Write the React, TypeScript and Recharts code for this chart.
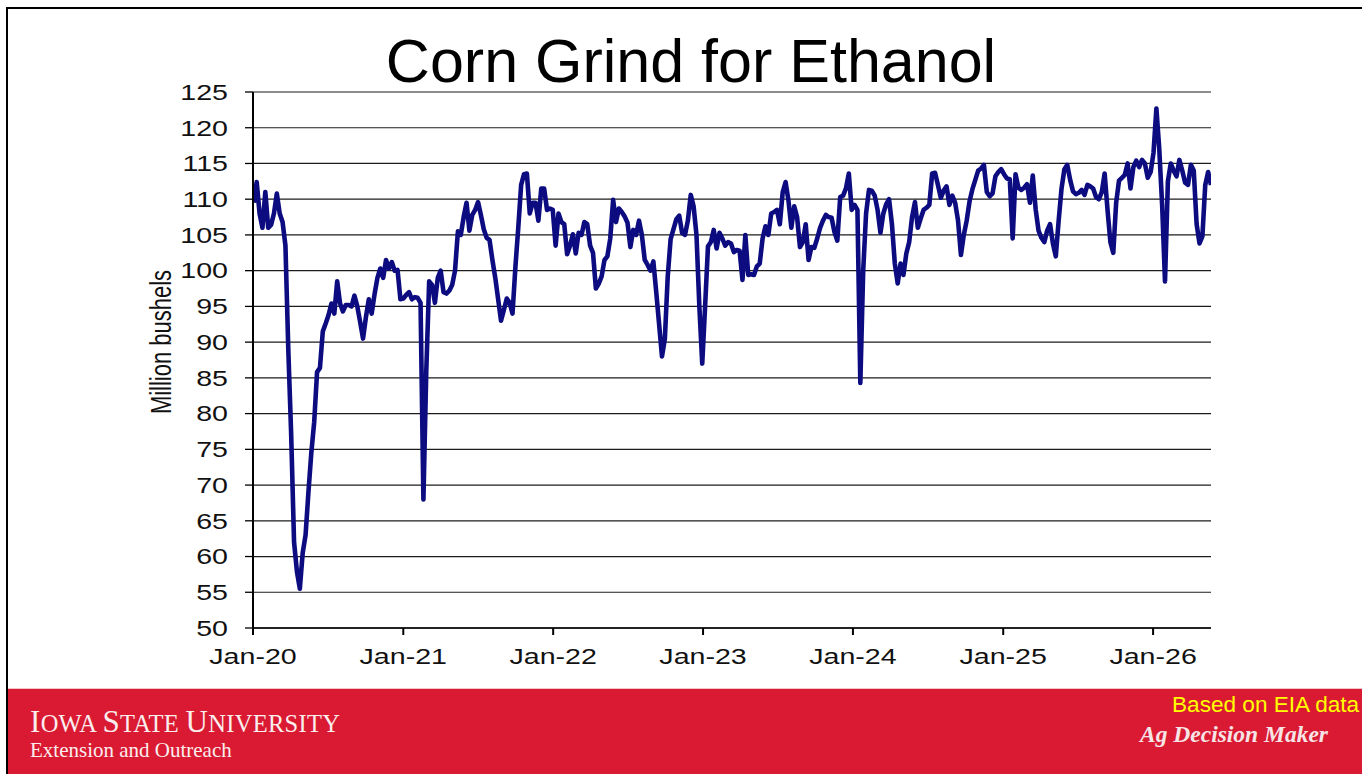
import { LineChart, Line, XAxis, YAxis, CartesianGrid } from "recharts";

// weekly corn grind for ethanol, million bushels
const grind2020 = [
  109.5, 112.4, 108, 106, 111, 106, 106.4, 108, 110.8, 108,
  106.8, 103.5, 88.9, 77, 62, 57.9, 55.5, 60.5, 63, 69,
  74.5, 78.8, 85.8, 86.4, 91.5, 92.6, 93.8, 95.4, 94, 98.5,
  95.4, 94.3, 95.2, 95.2, 95, 96.5, 95, 92.8, 90.5, 93.5,
  96, 94, 96.7, 99, 100.3, 99, 101.5, 100.3, 101.2, 100,
  100.1, 96,
];
const grind2021 = [
  96.1, 96.6, 97, 96, 96.3, 96.2, 95.5, 68, 86, 98.5,
  98, 95.5, 99, 100, 97, 96.8, 97.2, 98, 100, 105.5,
  105, 107.5, 109.5, 105.6, 107.8, 108.5, 109.6, 107.8, 105.8, 104.6,
  104.3, 101.5, 99, 96, 93, 94.5, 96.1, 95.5, 94, 100.5,
  106, 112, 113.5, 113.6, 108, 109.5, 109.5, 107, 111.5, 111.5,
  108.5, 108.7,
];
const grind2022 = [
  108.5, 103.5, 108, 106.8, 106.5, 102.3, 103.5, 105.1, 102.4, 105.3,
  105, 106.8, 106.5, 103.5, 102.5, 97.5, 98.2, 99.2, 101.5, 102,
  104.5, 109.9, 106.8, 108.7, 108.2, 107.6, 106.7, 103.3, 105.7, 105,
  107, 105, 101.5, 100.8, 100, 101.3, 97, 92.5, 88, 90.5,
  99.2, 104.4, 105.8, 107.2, 107.7, 105.3, 105, 107, 110.6, 109,
  105, 95,
];
const grind2023 = [
  87, 95, 103.4, 104, 105.7, 103.1, 105.3, 104.5, 103.5, 104,
  103.8, 102.6, 102.9, 102.8, 98.7, 105, 99.4, 99.5, 99.4, 100.6,
  101, 104.5, 106.2, 105, 108, 108.2, 108.5, 106.5, 111, 112.4,
  109.8, 106, 109, 107.5, 103.3, 104, 106.5, 101.5, 103.3, 103.2,
  104.5, 106, 107, 107.8, 107.5, 107.4, 105.4, 104.2, 110.3, 110.5,
  111.5, 113.6,
];
const grind2024 = [
  108.5, 109.2, 108.5, 84.3, 100, 108, 111.3, 111.2, 110.5, 108.5,
  105.3, 108, 109.3, 110, 106.5, 101, 98.2, 101, 99.4, 102.4,
  104, 107.5, 109.6, 106, 107.3, 108.5, 108.8, 109.2, 113.6, 113.7,
  112, 110.2, 111.2, 111.8, 109.2, 110.5, 109.5, 107, 102.2, 105,
  107, 109.7, 111.4, 112.7, 114, 114.3, 114.8, 111, 110.4, 110.8,
  113.2, 113.8,
];
const grind2025to26 = [
  114.2, 113.5, 112.9, 112.8, 104.5, 113.5, 111.6, 111.3, 111.6, 112.1,
  109.5, 113.3, 108.6, 105.6, 104.6, 104, 105.6, 106.5, 103.8, 102,
  107, 111.5, 114.2, 114.8, 112.7, 111.1, 110.7, 110.9, 111.3, 110.6,
  112, 111.8, 111.5, 110.3, 110, 111, 113.6, 108.5, 104, 102.5,
  109.5, 112.6, 113, 113.4, 115, 111.5, 114.5, 115.4, 114.5, 115.5,
  115, 113, 113.8, 116.5, 122.7, 117, 109.2, 98.5, 112.5, 115,
  114, 113.2, 115.5, 114, 112.3, 112, 114.8, 114, 106.5, 103.8,
  104.8, 112, 113.8, 112,
];

const tickYears = [2020, 2021, 2022, 2023, 2024, 2025, 2026];
const tickLabels = ["Jan-20", "Jan-21", "Jan-22", "Jan-23", "Jan-24", "Jan-25", "Jan-26"];
const yTicks = [50, 55, 60, 65, 70, 75, 80, 85, 90, 95, 100, 105, 110, 115, 120, 125];

const DAY = 86400000;
const firstWeek = Date.UTC(2020, 0, 3);
const xTicks = tickYears.map((y) => Date.UTC(y, 0, 1));
const xDomain = [Date.UTC(2020, 0, 1), Date.UTC(2026, 4, 22)];

const values = [
  ...grind2020,
  ...grind2021,
  ...grind2022,
  ...grind2023,
  ...grind2024,
  ...grind2025to26,
];
const data = values.map((v, i) => ({ t: firstWeek + i * 7 * DAY, grind: v }));

const SANS = "'Liberation Sans', Arial, sans-serif";
const SERIF = "'Liberation Serif', 'Times New Roman', serif";
const STRETCH = 1.3; // the pasted chart is stretched sideways

const stretchAt = (x: number) => `matrix(${STRETCH},0,0,1,${x - STRETCH * x},0)`;

function XTick(props: any) {
  const { x, y, payload } = props;
  const idx = xTicks.indexOf(payload.value);
  return (
    <text
      x={x}
      y={y}
      dy="0.71em"
      textAnchor="middle"
      fontFamily={SANS}
      fontSize={22}
      fill="#111"
      transform={stretchAt(x)}
    >
      {idx >= 0 ? tickLabels[idx] : ""}
    </text>
  );
}

function YTick(props: any) {
  const { x, y, payload } = props;
  return (
    <text
      x={x}
      y={y}
      dy="0.355em"
      textAnchor="end"
      fontFamily={SANS}
      fontSize={22}
      fill="#111"
      transform={stretchAt(x)}
    >
      {payload.value}
    </text>
  );
}

function YTitle() {
  return (
    <text
      x={0}
      y={0}
      textAnchor="middle"
      fontFamily={SANS}
      fontSize={22}
      fill="#111"
      transform={`translate(171,342) scale(${STRETCH},1) rotate(-90)`}
    >
      Million bushels
    </text>
  );
}

export default function App() {
  return (
    <div
      style={{
        position: "absolute",
        left: 0,
        top: 0,
        width: 1362,
        height: 774,
        overflow: "hidden",
        background: "#fff",
      }}
    >
      <div
        style={{
          position: "absolute",
          left: 191,
          top: 31,
          width: 1000,
          textAlign: "center",
          fontFamily: SANS,
          fontSize: 61,
          lineHeight: "60px",
          color: "#000",
          whiteSpace: "nowrap",
        }}
      >
        Corn Grind for Ethanol
      </div>

      <div style={{ position: "absolute", left: 0, top: 0 }}>
        <LineChart
          width={1362}
          height={680}
          data={data}
          margin={{ top: 92, right: 151, bottom: 0, left: 0 }}
        >
          <CartesianGrid vertical={false} stroke="#1c1c1c" strokeWidth={1.2} />
          <XAxis
            dataKey="t"
            type="number"
            domain={xDomain}
            ticks={xTicks}
            interval={0}
            height={52}
            tickSize={7}
            tickMargin={13}
            tick={<XTick />}
            axisLine={{ stroke: "#000", strokeWidth: 1.5 }}
            tickLine={{ stroke: "#000", strokeWidth: 2 }}
            allowDataOverflow
          />
          <XAxis
            xAxisId="top"
            dataKey="t"
            type="number"
            orientation="top"
            domain={xDomain}
            height={0}
            tick={false}
            tickLine={false}
            axisLine={{ stroke: "#9a9a9a", strokeWidth: 1.5 }}
          />
          <YAxis
            domain={[50, 125]}
            ticks={yTicks}
            interval={0}
            width={253}
            tickSize={8}
            tickMargin={17}
            tick={<YTick />}
            axisLine={{ stroke: "#000", strokeWidth: 2 }}
            tickLine={{ stroke: "#000", strokeWidth: 1.3 }}
            label={<YTitle />}
          />
          <YAxis
            yAxisId="right"
            orientation="right"
            domain={[50, 125]}
            width={0}
            tick={false}
            tickLine={false}
            axisLine={{ stroke: "#9a9a9a", strokeWidth: 2 }}
          />
          <Line
            dataKey="grind"
            type="linear"
            stroke="#0c0c80"
            strokeWidth={4.6}
            strokeLinejoin="round"
            dot={false}
            isAnimationActive={false}
          />
        </LineChart>
      </div>

      {/* slide frame */}
      <div style={{ position: "absolute", left: 6, top: 7, width: 1356, height: 2, background: "#000" }} />
      <div style={{ position: "absolute", left: 6, top: 7, width: 2, height: 767, background: "#000" }} />

      {/* footer band */}
      <div
        style={{
          position: "absolute",
          left: 8,
          top: 688,
          width: 1354,
          height: 86,
          background: "#da1a32",
          borderTop: "1px solid #f2c4cb",
        }}
      />
      <div
        style={{
          position: "absolute",
          left: 30,
          top: 709.5,
          fontFamily: SERIF,
          fontSize: 31,
          lineHeight: "24px",
          letterSpacing: 0.3,
          color: "#fbeeee",
          whiteSpace: "nowrap",
        }}
      >
        <span>I</span>
        <span style={{ fontSize: 24.5 }}>OWA </span>
        <span>S</span>
        <span style={{ fontSize: 24.5 }}>TATE </span>
        <span>U</span>
        <span style={{ fontSize: 24.5 }}>NIVERSITY</span>
      </div>
      <div
        style={{
          position: "absolute",
          left: 30,
          top: 742,
          fontFamily: SERIF,
          fontSize: 21,
          lineHeight: "17px",
          color: "#fbeeee",
          whiteSpace: "nowrap",
        }}
      >
        Extension and Outreach
      </div>
      <div
        style={{
          position: "absolute",
          left: 1172,
          top: 694,
          fontFamily: SANS,
          fontSize: 22.6,
          lineHeight: "22px",
          color: "#ffff00",
          whiteSpace: "nowrap",
        }}
      >
        Based on EIA data
      </div>
      <div
        style={{
          position: "absolute",
          left: 1140,
          top: 723,
          fontFamily: SERIF,
          fontSize: 23.5,
          lineHeight: "22px",
          fontWeight: "bold",
          fontStyle: "italic",
          color: "#f6e4e6",
          whiteSpace: "nowrap",
        }}
      >
        Ag Decision Maker
      </div>
    </div>
  );
}
